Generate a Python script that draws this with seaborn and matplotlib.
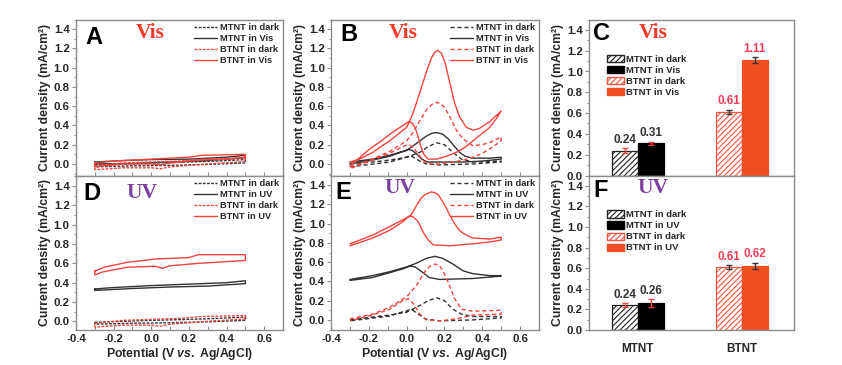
import numpy as np
import pandas as pd
import matplotlib
matplotlib.use("Agg")
import matplotlib.pyplot as plt
import seaborn as sns
from matplotlib.patches import Patch
from matplotlib.ticker import MultipleLocator, FormatStrFormatter

# ---------------- CV data (closed loops: forward scan then reverse scan) ----------------
# Panel A / D : dark curves (shared)
mtnt_dark_flat_x = [-0.30, -0.15, 0.00, 0.20, 0.35, 0.50, 0.50, 0.30, 0.10, -0.10, -0.30, -0.30]
mtnt_dark_flat_y = [-0.01, 0.00, 0.01, 0.02, 0.03, 0.045, 0.01, -0.005, -0.015, -0.02, -0.03, -0.01]
btnt_dark_flat_x = [-0.30, -0.15, 0.00, 0.15, 0.27, 0.50, 0.50, 0.30, 0.10, 0.05, 0.00, -0.15, -0.30, -0.30]
btnt_dark_flat_y = [-0.02, 0.01, 0.02, 0.03, 0.05, 0.06, 0.025, 0.00, -0.03, -0.05, -0.04, -0.04, -0.06, -0.02]
# Panel A : visible light
mtnt_vis_A_x = [-0.30, -0.15, 0.00, 0.20, 0.40, 0.50, 0.50, 0.30, 0.10, -0.10, -0.30, -0.30]
mtnt_vis_A_y = [0.02, 0.035, 0.045, 0.05, 0.07, 0.09, 0.065, 0.035, 0.02, 0.005, 0.00, 0.02]
btnt_vis_A_x = [-0.30, -0.20, -0.10, 0.05, 0.20, 0.27, 0.40, 0.50, 0.50, 0.40, 0.25, 0.10, 0.05, 0.00, -0.15, -0.30, -0.30]
btnt_vis_A_y = [0.01, 0.03, 0.04, 0.055, 0.07, 0.09, 0.095, 0.10, 0.07, 0.05, 0.04, 0.01, -0.01, 0.00, 0.00, -0.03, 0.01]
# Panel D : UV light
mtnt_uv_D_x = [-0.30, -0.20, 0.00, 0.20, 0.40, 0.50, 0.50, 0.30, 0.10, -0.10, -0.30, -0.30]
mtnt_uv_D_y = [0.335, 0.35, 0.37, 0.385, 0.40, 0.42, 0.39, 0.365, 0.355, 0.34, 0.32, 0.335]
btnt_uv_D_x = [-0.30, -0.25, -0.13, 0.02, 0.20, 0.25, 0.50, 0.50, 0.25, 0.10, 0.06, 0.02, -0.13, -0.26, -0.30, -0.30]
btnt_uv_D_y = [0.52, 0.56, 0.61, 0.645, 0.66, 0.69, 0.69, 0.63, 0.60, 0.575, 0.55, 0.57, 0.56, 0.51, 0.48, 0.52]

# Panel B : visible light
btnt_vis_B_x = [-0.30, -0.25, -0.18, -0.09, 0.00, 0.026, 0.053, 0.079, 0.105, 0.131, 0.149, 0.163,
                0.184, 0.202, 0.219, 0.237, 0.254, 0.28, 0.316, 0.351, 0.386, 0.44, 0.50,
                0.474, 0.44, 0.395, 0.351, 0.307, 0.263, 0.21, 0.158, 0.114, 0.091, 0.074, 0.058,
                0.044, 0.026, 0.012, -0.004, -0.035, -0.088, -0.14, -0.193, -0.246, -0.30]
btnt_vis_B_y = [0.02, 0.05, 0.12, 0.24, 0.38, 0.49, 0.64, 0.80, 0.96, 1.10, 1.16, 1.18,
                1.15, 1.06, 0.92, 0.77, 0.63, 0.49, 0.38, 0.35, 0.37, 0.44, 0.55,
                0.47, 0.38, 0.31, 0.24, 0.17, 0.12, 0.08, 0.05, 0.05, 0.10, 0.19, 0.30,
                0.38, 0.43, 0.44, 0.42, 0.38, 0.31, 0.23, 0.16, 0.07, -0.02]
btnt_dark_B_x = [-0.30, -0.25, -0.18, -0.09, 0.00, 0.035, 0.07, 0.105, 0.135, 0.155, 0.175, 0.20,
                 0.228, 0.263, 0.298, 0.35, 0.40, 0.45, 0.50,
                 0.50, 0.45, 0.40, 0.35, 0.30, 0.25, 0.175, 0.12, 0.09, 0.065, 0.04, 0.015,
                 -0.01, -0.05, -0.09, -0.18, -0.25, -0.30]
btnt_dark_B_y = [-0.03, 0.00, 0.05, 0.13, 0.24, 0.33, 0.45, 0.56, 0.62, 0.64, 0.63, 0.59,
                 0.49, 0.35, 0.26, 0.19, 0.20, 0.23, 0.28,
                 0.24, 0.17, 0.11, 0.07, 0.04, 0.02, 0.00, 0.00, 0.03, 0.09, 0.16, 0.20,
                 0.19, 0.15, 0.11, 0.04, -0.01, -0.05]
mtnt_vis_B_x = [-0.30, -0.18, -0.09, 0.00, 0.05, 0.105, 0.135, 0.16, 0.19, 0.22, 0.254, 0.28,
                0.31, 0.35, 0.44, 0.50,
                0.50, 0.40, 0.30, 0.175, 0.11, 0.08, 0.055, 0.03, 0.01, -0.02, -0.09, -0.18, -0.30]
mtnt_vis_B_y = [0.02, 0.05, 0.09, 0.14, 0.21, 0.29, 0.32, 0.325, 0.31, 0.26, 0.18, 0.12,
                0.08, 0.06, 0.06, 0.07,
                0.05, 0.03, 0.02, 0.02, 0.02, 0.05, 0.10, 0.14, 0.15, 0.13, 0.08, 0.04, 0.00]
mtnt_dark_B_x = [-0.30, -0.18, -0.09, 0.00, 0.07, 0.114, 0.158, 0.20, 0.245, 0.29, 0.35, 0.50,
                 0.50, 0.35, 0.175, 0.105, 0.07, 0.026, 0.00, -0.09, -0.30]
mtnt_dark_B_y = [0.00, 0.02, 0.04, 0.07, 0.12, 0.18, 0.22, 0.20, 0.12, 0.05, 0.02, 0.03,
                 0.02, 0.00, -0.01, 0.00, 0.03, 0.08, 0.07, 0.02, -0.03]

# Panel E : UV light
btnt_uv_E_x = [-0.30, -0.18, -0.09, -0.02, 0.02, 0.053, 0.075, 0.096, 0.131, 0.15, 0.167, 0.19,
               0.21, 0.23, 0.254, 0.275, 0.298, 0.35, 0.44, 0.50,
               0.50, 0.44, 0.35, 0.23, 0.14, 0.114, 0.088, 0.061, 0.035, 0.014, -0.02, -0.09, -0.18, -0.30]
btnt_uv_E_y = [0.79, 0.88, 0.97, 1.04, 1.08, 1.19, 1.26, 1.30, 1.33, 1.32, 1.30, 1.23,
               1.16, 1.08, 1.00, 0.94, 0.90, 0.85, 0.84, 0.86,
               0.83, 0.81, 0.79, 0.77, 0.78, 0.83, 0.91, 1.02, 1.07, 1.08, 1.02, 0.93, 0.85, 0.77]
mtnt_uv_E_x = [-0.30, -0.18, -0.09, 0.00, 0.053, 0.105, 0.15, 0.19, 0.245, 0.298, 0.35, 0.44, 0.50,
               0.50, 0.35, 0.175, 0.12, 0.08, 0.045, 0.017, -0.02, -0.09, -0.18, -0.30]
mtnt_uv_E_y = [0.42, 0.46, 0.50, 0.55, 0.59, 0.64, 0.66, 0.64, 0.58, 0.51, 0.48, 0.46, 0.46,
               0.455, 0.43, 0.42, 0.44, 0.50, 0.55, 0.56, 0.53, 0.49, 0.44, 0.41]
btnt_dark_E_x = [-0.30, -0.18, -0.09, 0.00, 0.053, 0.096, 0.125, 0.15, 0.17, 0.19, 0.22, 0.254,
                 0.29, 0.35, 0.50,
                 0.50, 0.35, 0.26, 0.175, 0.105, 0.07, 0.035, 0.01, -0.02, -0.09, -0.18, -0.30]
btnt_dark_E_y = [0.01, 0.06, 0.13, 0.24, 0.36, 0.50, 0.56, 0.58, 0.57, 0.52, 0.39, 0.22,
                 0.11, 0.09, 0.10,
                 0.06, 0.05, 0.01, -0.01, 0.00, 0.06, 0.17, 0.22, 0.20, 0.11, 0.05, -0.01]
mtnt_dark_E_x = [-0.30, -0.18, -0.09, 0.00, 0.07, 0.114, 0.158, 0.20, 0.245, 0.29, 0.35, 0.50,
                 0.50, 0.35, 0.175, 0.10, 0.061, 0.026, -0.01, -0.09, -0.30]
mtnt_dark_E_y = [0.00, 0.03, 0.05, 0.08, 0.15, 0.20, 0.23, 0.20, 0.11, 0.06, 0.035, 0.035,
                 0.02, 0.00, -0.01, 0.01, 0.06, 0.11, 0.09, 0.04, -0.01]

# ---------------- Bar data ----------------
samples = ["MTNT", "BTNT"]
conditions = ["dark", "light"]
vis_vals = [0.24, 0.61, 0.31, 1.11]     # order: dark-MTNT, dark-BTNT, light-MTNT, light-BTNT
vis_errs = [0.02, 0.02, 0.015, 0.025]
uv_vals = [0.24, 0.61, 0.26, 0.62]
uv_errs = [0.02, 0.02, 0.04, 0.03]

# ---------------- Style ----------------
sns.set_style("ticks")
plt.rcParams["font.family"] = ["Liberation Sans", "DejaVu Sans"]
plt.rcParams["font.weight"] = "bold"
plt.rcParams["axes.labelweight"] = "bold"
plt.rcParams["mathtext.fontset"] = "custom"
plt.rcParams["mathtext.it"] = "Liberation Sans:italic:bold"
plt.rcParams["mathtext.rm"] = "Liberation Sans:bold"
plt.rcParams["hatch.linewidth"] = 0.8

RED = "#f4433c"
BLK = "#333333"
ORANGE = "#f04e23"
VIS_C = "#f33b2b"
UV_C = "#7b3f9e"
SPINE = "#8c8c8c"
TICK_FS = 8.2
LAB_FS = 8.8

fig = plt.figure(figsize=(8.42, 3.65), dpi=100)
W, H = 842.0, 365.0
top, mid, bot = 19.5, 175.5, 330.0

def ax_at(x0, x1, y0, y1):
    return fig.add_axes([x0 / W, 1 - y1 / H, (x1 - x0) / W, (y1 - y0) / H])

axA = ax_at(76, 283, top, mid)
axD = ax_at(76, 283, mid, bot)
axB = ax_at(331, 539, top, mid)
axE = ax_at(331, 539, mid, bot)
axC = ax_at(589, 794, top, mid)
axF = ax_at(589, 794, mid, bot)

YLAB = "Current density (mA/cm\u00b2)"

def style_common(ax):
    for s in ax.spines.values():
        s.set_visible(True)
        s.set_color(SPINE)
        s.set_linewidth(1.0)
    ax.yaxis.set_major_locator(MultipleLocator(0.2))
    ax.yaxis.set_minor_locator(MultipleLocator(0.1))
    ax.yaxis.set_major_formatter(FormatStrFormatter("%.1f"))
    ax.tick_params(axis="y", which="major", direction="out", length=3, width=0.8,
                   color=SPINE, labelsize=TICK_FS, pad=1.5)
    ax.tick_params(axis="y", which="minor", direction="out", length=1.5, width=0.6, color=SPINE)
    ax.set_ylabel(YLAB, fontsize=LAB_FS, fontweight="bold", labelpad=2)

def style_cv(ax, ylim, show_x):
    style_common(ax)
    ax.set_xlim(-0.4, 0.7)
    ax.set_ylim(*ylim)
    ax.xaxis.set_major_locator(MultipleLocator(0.2))
    ax.xaxis.set_minor_locator(MultipleLocator(0.1))
    ax.xaxis.set_major_formatter(FormatStrFormatter("%.1f"))
    ax.tick_params(axis="x", which="major", direction="in", length=3, width=0.8,
                   color=SPINE, labelsize=TICK_FS, pad=3)
    ax.tick_params(axis="x", which="minor", direction="in", length=3, width=0.8, color=SPINE)
    if show_x:
        ax.set_xlabel("Potential (V $\\it{vs.}$ Ag/AgCl)", fontsize=LAB_FS, fontweight="bold", labelpad=1)
    else:
        ax.tick_params(axis="x", labelbottom=False)
        ax.set_xlabel("")

def cv(ax, x, y, color, ls, label):
    sns.lineplot(x=x, y=y, sort=False, estimator=None, ax=ax, color=color,
                 linewidth=1.0, label=label, legend=False)
    line = ax.get_lines()[-1]
    if ls != "-":
        line.set_dashes(ls)
    return line

def cv_legend(ax, handles):
    ax.legend(handles=handles, loc="upper right", bbox_to_anchor=(1.0, 1.0), frameon=False,
              fontsize=6.7, handlelength=2.5, handletextpad=0.3, labelspacing=0.2,
              borderaxespad=0.25, borderpad=0.15)

def panel_text(ax, letter, lx, ly, word, wx, wy, wc):
    ax.text(lx, ly, letter, transform=ax.transAxes, ha="left", va="center",
            fontsize=17, fontweight="bold", color="black")
    ax.text(wx, wy, word, transform=ax.transAxes, ha="center", va="center",
            fontsize=15.5, fontweight="bold", color=wc, family="Liberation Serif")

DOT = (2, 1)
DASH = (3, 2)

# ---- Panel A ----
h = [cv(axA, mtnt_dark_flat_x, mtnt_dark_flat_y, BLK, DOT, "MTNT in dark"),
     cv(axA, mtnt_vis_A_x, mtnt_vis_A_y, BLK, "-", "MTNT in Vis"),
     cv(axA, btnt_dark_flat_x, btnt_dark_flat_y, RED, DOT, "BTNT in dark"),
     cv(axA, btnt_vis_A_x, btnt_vis_A_y, RED, "-", "BTNT in Vis")]
style_cv(axA, (-0.12, 1.5), False)
cv_legend(axA, h)
panel_text(axA, "A", 0.045, 0.885, "Vis", 0.357, 0.913, VIS_C)

# ---- Panel D ----
h = [cv(axD, mtnt_dark_flat_x, mtnt_dark_flat_y, BLK, DOT, "MTNT in dark"),
     cv(axD, mtnt_uv_D_x, mtnt_uv_D_y, BLK, "-", "MTNT in UV"),
     cv(axD, btnt_dark_flat_x, btnt_dark_flat_y, RED, DOT, "BTNT in dark"),
     cv(axD, btnt_uv_D_x, btnt_uv_D_y, RED, "-", "BTNT in UV")]
style_cv(axD, (-0.09, 1.51), True)
cv_legend(axD, h)
panel_text(axD, "D", 0.034, 0.885, "UV", 0.319, 0.887, UV_C)

# ---- Panel B ----
h = [cv(axB, mtnt_dark_B_x, mtnt_dark_B_y, BLK, DASH, "MTNT in dark"),
     cv(axB, mtnt_vis_B_x, mtnt_vis_B_y, BLK, "-", "MTNT in Vis"),
     cv(axB, btnt_dark_B_x, btnt_dark_B_y, RED, DASH, "BTNT in dark"),
     cv(axB, btnt_vis_B_x, btnt_vis_B_y, RED, "-", "BTNT in Vis")]
style_cv(axB, (-0.12, 1.5), False)
cv_legend(axB, h)
panel_text(axB, "B", 0.043, 0.905, "Vis", 0.346, 0.913, VIS_C)

# ---- Panel E ----
h = [cv(axE, mtnt_dark_E_x, mtnt_dark_E_y, BLK, DASH, "MTNT in dark"),
     cv(axE, mtnt_uv_E_x, mtnt_uv_E_y, BLK, "-", "MTNT in UV"),
     cv(axE, btnt_dark_E_x, btnt_dark_E_y, RED, DASH, "BTNT in dark"),
     cv(axE, btnt_uv_E_x, btnt_uv_E_y, RED, "-", "BTNT in UV")]
style_cv(axE, (-0.105, 1.5), True)
cv_legend(axE, h)
panel_text(axE, "E", 0.02, 0.893, "UV", 0.332, 0.919, UV_C)

# ---- Bar panels ----
def bar_panel(ax, vals, errs, light_word, show_x):
    df = pd.DataFrame({"sample": samples * 2,
                       "cond": [conditions[0]] * 2 + [conditions[1]] * 2,
                       "val": vals})
    sns.barplot(data=df, x="sample", y="val", hue="cond", order=samples, hue_order=conditions,
                width=0.5, gap=0, ax=ax, legend=False, errorbar=None, saturation=1,
                palette=["white", "black"])
    styles = {("dark", "MTNT"): dict(fc="white", ec="#222222", hatch="//////"),
              ("light", "MTNT"): dict(fc="black", ec="black", hatch=None),
              ("dark", "BTNT"): dict(fc="white", ec="#f2553f", hatch="//////"),
              ("light", "BTNT"): dict(fc=ORANGE, ec=ORANGE, hatch=None)}
    ecolors = {"MTNT": RED, "BTNT": BLK}
    tcolors = {"MTNT": "#333333", "BTNT": "#f2405a"}
    k = 0
    for ci, cond in enumerate(conditions):
        for bi, bar in enumerate(ax.containers[ci]):
            s = samples[bi]
            st = styles[(cond, s)]
            bar.set_facecolor(st["fc"])
            bar.set_edgecolor(st["ec"])
            bar.set_linewidth(0.9)
            if st["hatch"]:
                bar.set_hatch(st["hatch"])
            cx = bar.get_x() + bar.get_width() / 2
            hgt = bar.get_height()
            e = errs[k]
            ax.errorbar([cx], [hgt], yerr=[e], fmt="none", ecolor=ecolors[s],
                        elinewidth=1.0, capsize=2.2, capthick=1.0, zorder=5)
            ax.text(cx, hgt + e + 0.025, f"{vals[k]:.2f}", ha="center", va="bottom",
                    fontsize=8.5, fontweight="bold", color=tcolors[s])
            k += 1
    style_common(ax)
    ax.set_ylim(0, 1.5)
    ax.set_xlim(-0.47, 1.5)
    ax.set_xlabel("")
    ax.tick_params(axis="x", which="both", length=0, labelsize=8.5, pad=9)
    if not show_x:
        ax.tick_params(axis="x", labelbottom=False)
    leg_h = [Patch(facecolor="white", edgecolor="#222222", hatch="//////", label="MTNT in dark"),
             Patch(facecolor="black", edgecolor="black", label=f"MTNT in {light_word}"),
             Patch(facecolor="white", edgecolor="#f2553f", hatch="//////", label="BTNT in dark"),
             Patch(facecolor=ORANGE, edgecolor=ORANGE, label=f"BTNT in {light_word}")]
    ax.legend(handles=leg_h, loc="upper left", bbox_to_anchor=(0.09, 0.775), frameon=False,
              fontsize=6.8, handlelength=1.8, handleheight=0.8, handletextpad=0.15,
              labelspacing=0.22, borderaxespad=0.0, borderpad=0.0)

bar_panel(axC, vis_vals, vis_errs, "Vis", False)
panel_text(axC, "C", 0.02, 0.912, "Vis", 0.312, 0.913, VIS_C)
bar_panel(axF, uv_vals, uv_errs, "UV", True)
panel_text(axF, "F", 0.02, 0.904, "UV", 0.312, 0.919, UV_C)

fig.savefig("out.png", dpi=100)
